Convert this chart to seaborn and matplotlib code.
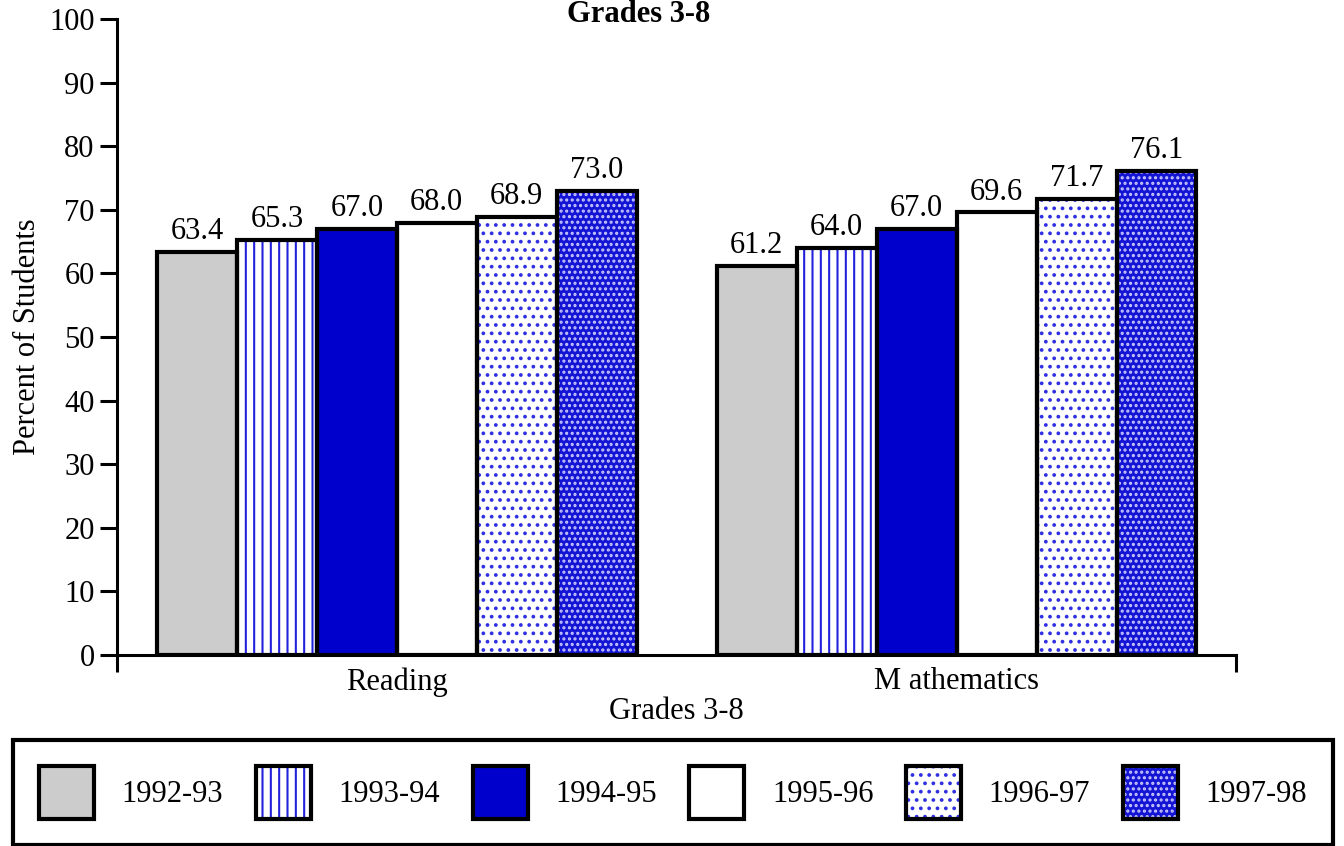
import seaborn as sns
import matplotlib.pyplot as plt
import pandas as pd
from matplotlib.patches import Patch, Rectangle

subjects = ['Reading', 'M athematics']
years = ['1992-93', '1993-94', '1994-95', '1995-96', '1996-97', '1997-98']
reading = [63.4, 65.3, 67.0, 68.0, 68.9, 73.0]
math = [61.2, 64.0, 67.0, 69.6, 71.7, 76.1]

face_cols = ['#cccccc', '#ffffff', '#0000cc', '#ffffff', '#ffffff', '#1414d4']
hatch_cols = ['#cccccc', '#2222dd', '#0000cc', '#ffffff', '#3030e0', '#c8c8ff']
hatches = [None, '||', None, None, '..', '...']

df = pd.DataFrame({
    'subject': [subjects[0]] * len(years) + [subjects[1]] * len(years),
    'year': years + years,
    'pct': reading + math,
})

sns.set_style('white')
plt.rcParams['font.family'] = ['Liberation Serif', 'DejaVu Serif']
plt.rcParams['hatch.linewidth'] = 1.5
plt.rcParams['text.color'] = 'black'
plt.rcParams['axes.labelcolor'] = 'black'
plt.rcParams['xtick.color'] = 'black'
plt.rcParams['ytick.color'] = 'black'
plt.rcParams['axes.edgecolor'] = 'black'

fig, ax = plt.subplots(figsize=(13.44, 8.46), dpi=100)
fig.subplots_adjust(left=0.087, right=0.920, top=0.9775, bottom=0.2258)

sns.barplot(data=df, x='subject', y='pct', hue='year', hue_order=years,
            palette=face_cols, width=0.857, gap=0, saturation=1,
            legend=False, ax=ax)

# hatch layer coloured blue, then black outline on top
for i, cont in enumerate(ax.containers):
    for bar in cont:
        bar.set_hatch(hatches[i])
        bar.set_edgecolor(hatch_cols[i])
        bar.set_linewidth(0)
        ax.add_patch(Rectangle(bar.get_xy(), bar.get_width(), bar.get_height(),
                               fill=False, ec='black', lw=3, zorder=3))
    ax.bar_label(cont, fmt='%.1f', padding=4, fontsize=22, color='black')

ax.set_ylim(0, 100)
ax.set_xlim(-0.5, 1.5)
ax.set_yticks(range(0, 101, 10))
ax.set_xticks([-0.5, 1.5], minor=True)
for s in ['top', 'right']:
    ax.spines[s].set_visible(False)
for s in ['left', 'bottom']:
    ax.spines[s].set_linewidth(2.2)
ax.tick_params(axis='y', length=12, width=2.2, pad=4, labelsize=22, left=True)
ax.tick_params(axis='x', which='major', length=0, pad=9, labelsize=22)
ax.tick_params(axis='x', which='minor', length=12, width=2.2, direction='out', bottom=True)
ax.set_ylabel('Percent of Students', fontsize=22, labelpad=5)
ax.set_xlabel('Grades 3-8', fontsize=22, labelpad=0)

fig.text(639 / 1344, 1 - 22 / 846, 'Grades 3-8', ha='center', va='baseline',
         fontsize=22, fontweight='bold')

handles = []
for i, y in enumerate(years):
    h1 = Patch(facecolor=face_cols[i], edgecolor=hatch_cols[i], hatch=hatches[i], lw=0)
    h2 = Patch(facecolor='none', edgecolor='black', lw=3)
    handles.append((h1, h2))

leg = fig.legend(handles, years, loc='lower left', ncol=6, mode='expand',
                 bbox_to_anchor=(13 / 1344, 1 / 846, 1320 / 1344, 102 / 846),
                 borderaxespad=0, fontsize=22, handlelength=1.8, handleheight=2.3,
                 handletextpad=0.9, borderpad=0.85, fancybox=False, framealpha=1)
leg.get_frame().set_edgecolor('black')
leg.get_frame().set_linewidth(3)

plt.savefig('out.png', dpi=100)
